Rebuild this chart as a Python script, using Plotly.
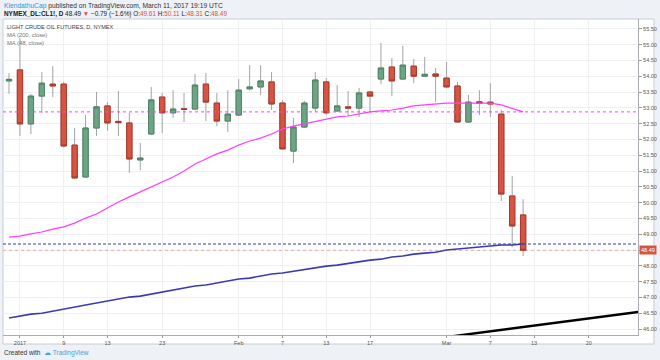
import plotly.graph_objects as go

# ---------------- data ----------------
dates = ["2016-12-30",
         "2017-01-03", "2017-01-04", "2017-01-05", "2017-01-06", "2017-01-09", "2017-01-10",
         "2017-01-11", "2017-01-12", "2017-01-13", "2017-01-17", "2017-01-18", "2017-01-19",
         "2017-01-20", "2017-01-23", "2017-01-24", "2017-01-25", "2017-01-26", "2017-01-27",
         "2017-01-30", "2017-01-31", "2017-02-01", "2017-02-02", "2017-02-03", "2017-02-06",
         "2017-02-07", "2017-02-08", "2017-02-09", "2017-02-10", "2017-02-13", "2017-02-14",
         "2017-02-15", "2017-02-16", "2017-02-17", "2017-02-21", "2017-02-22", "2017-02-23",
         "2017-02-24", "2017-02-27", "2017-02-28", "2017-03-01", "2017-03-02", "2017-03-03",
         "2017-03-06", "2017-03-07", "2017-03-08", "2017-03-09", "2017-03-10"]
future_dates = ["2017-03-13", "2017-03-14", "2017-03-15", "2017-03-16", "2017-03-17",
                "2017-03-20", "2017-03-21", "2017-03-22", "2017-03-23", "2017-03-24",
                "2017-03-27", "2017-03-28", "2017-03-29", "2017-03-30", "2017-03-31"]

opens = [53.85, 54.20, 52.49, 53.37, 53.75, 53.75, 51.82, 50.81, 52.36, 53.06, 52.57, 52.52,
         51.35, 52.17, 53.34, 52.84, 52.97, 52.96, 53.75, 53.15, 52.58, 52.77, 53.60, 53.66,
         53.82, 53.15, 51.63, 52.39, 52.99, 53.82, 52.90, 53.03, 52.99, 53.50, 53.91, 54.29,
         53.91, 54.32, 54.00, 54.07, 53.94, 53.69, 52.55, 53.19, 53.18, 52.80, 50.21, 49.61]
highs = [54.10, 55.20, 53.44, 54.13, 54.32, 53.82, 52.36, 52.77, 53.50, 53.18, 53.53, 52.84,
         51.89, 53.66, 53.47, 53.56, 53.47, 54.07, 54.10, 53.47, 53.56, 53.91, 54.35, 54.35,
         54.13, 53.25, 52.68, 53.22, 54.13, 53.94, 53.72, 53.53, 53.63, 53.53, 55.05, 54.58,
         54.96, 54.54, 54.61, 54.26, 54.45, 53.82, 53.41, 53.56, 53.78, 52.93, 50.84, 50.11]
lows = [53.44, 52.11, 52.17, 52.84, 53.34, 51.75, 50.75, 50.78, 52.11, 52.27, 52.11, 50.94,
        51.03, 52.14, 52.20, 52.68, 52.55, 52.93, 52.58, 52.42, 52.23, 52.74, 53.55, 53.40,
        52.93, 51.68, 51.25, 52.36, 52.87, 52.77, 52.88, 52.74, 52.71, 52.87, 53.75, 53.37,
        53.88, 53.78, 53.97, 53.18, 53.64, 52.53, 52.53, 52.77, 52.71, 50.05, 48.59, 48.31]
closes = [53.90, 52.49, 53.37, 53.78, 53.69, 51.79, 50.78, 52.36, 53.03, 52.52, 52.53, 51.38,
          51.41, 53.25, 52.84, 52.96, 52.95, 53.72, 53.18, 52.58, 52.80, 53.56, 53.66, 53.85,
          53.12, 51.70, 52.39, 53.15, 53.88, 52.84, 53.06, 52.99, 53.47, 53.37, 54.26, 53.85,
          54.35, 54.00, 54.06, 54.00, 53.66, 52.55, 53.18, 53.15, 53.12, 50.27, 49.26, 48.49]

ma48 = [48.91, 48.94, 49.01, 49.07, 49.16, 49.23, 49.35, 49.51, 49.64, 49.83, 50.02, 50.18,
        50.34, 50.49, 50.65, 50.81, 51.00, 51.22, 51.38, 51.54, 51.66, 51.82, 51.95, 52.04,
        52.17, 52.33, 52.42, 52.49, 52.58, 52.65, 52.71, 52.74, 52.80, 52.87, 52.90, 52.93,
        52.99, 53.06, 53.09, 53.12, 53.15, 53.15, 53.15, 53.15, 53.15, 53.09, 52.99, 52.87]
ma200 = [46.35, 46.41, 46.47, 46.50, 46.57, 46.63, 46.69, 46.76, 46.82, 46.88, 46.95, 47.01,
         47.04, 47.10, 47.17, 47.23, 47.29, 47.36, 47.39, 47.45, 47.51, 47.58, 47.61, 47.67,
         47.74, 47.77, 47.83, 47.89, 47.93, 47.99, 48.02, 48.08, 48.12, 48.18, 48.21, 48.28,
         48.31, 48.37, 48.40, 48.43, 48.50, 48.53, 48.56, 48.59, 48.62, 48.66, 48.66, 48.69]

trend_dates = ["2017-02-28", "2017-03-31"]
trend_values = [45.70, 46.74]

tick_dates = ["2017-01-03", "2017-01-09", "2017-01-13", "2017-01-23", "2017-02-01",
              "2017-02-07", "2017-02-13", "2017-02-17", "2017-03-01", "2017-03-07",
              "2017-03-13", "2017-03-20"]
tick_labels = ["2017", "9", "13", "23", "Feb", "7", "13", "17", "Mar", "7", "13", "20"]
price_ticks = [46.0, 46.5, 47.0, 47.5, 48.0, 48.5, 49.0, 49.5, 50.0, 50.5, 51.0,
               51.5, 52.0, 52.5, 53.0, 53.5, 54.0, 54.5, 55.0, 55.5]
# the 48.50 label is hidden behind the last-price marker in the reference
price_labels = ["46.00", "46.50", "47.00", "47.50", "48.00", "", "49.00", "49.50", "50.00",
                "50.50", "51.00", "51.50", "52.00", "52.50", "53.00", "53.50", "54.00",
                "54.50", "55.00", "55.50"]

# ---------------- style ----------------
W, H = 660, 360
L, R, T, B = 3, 20, 19, 25
PW, PH = W - L - R, H - T - B
FONT = "Liberation Sans, Arial, sans-serif"
UP, DOWN = "#6ba583", "#d75442"
UP_BORDER, DOWN_BORDER = "#4f8466", "#a8392a"
WICK = "#a3a3a3"
MAG, BLUE = "#ff3cff", "#3b3bb0"


def px(x):
    return (x - L) / PW


def py(y):
    return (H - B - y) / PH


body_hi = [max(o, c) for o, c in zip(opens, closes)]
body_lo = [min(o, c) for o, c in zip(opens, closes)]

fig = go.Figure()
fig.add_trace(go.Candlestick(
    x=dates, open=opens, high=highs, low=lows, close=closes,
    increasing=dict(line=dict(color=WICK, width=1), fillcolor=UP),
    decreasing=dict(line=dict(color=WICK, width=1), fillcolor=DOWN),
    whiskerwidth=0, showlegend=False, hoverinfo="skip"))
fig.add_trace(go.Candlestick(
    x=dates, open=opens, high=body_hi, low=body_lo, close=closes,
    increasing=dict(line=dict(color=UP_BORDER, width=1), fillcolor=UP),
    decreasing=dict(line=dict(color=DOWN_BORDER, width=1), fillcolor=DOWN),
    whiskerwidth=0, showlegend=False))
fig.add_trace(go.Scatter(x=dates, y=ma48, mode="lines",
                         line=dict(color=MAG, width=1.2), showlegend=False))
fig.add_trace(go.Scatter(x=dates, y=ma200, mode="lines",
                         line=dict(color=BLUE, width=1.6), showlegend=False))
fig.add_trace(go.Scatter(x=trend_dates, y=trend_values, mode="lines",
                         line=dict(color="#000000", width=2.4), showlegend=False))

shapes = [
    # white chart frame
    dict(type="rect", xref="paper", yref="paper", x0=px(3), x1=px(656), y0=py(344), y1=py(19),
         fillcolor="#ffffff", line=dict(color="#c9ccd2", width=1), layer="below"),
    dict(type="line", xref="paper", yref="y", x0=0, x1=1, y0=ma48[-1], y1=ma48[-1],
         line=dict(color=MAG, width=1, dash="dot")),
    dict(type="line", xref="paper", yref="y", x0=0, x1=1, y0=ma200[-1], y1=ma200[-1],
         line=dict(color=BLUE, width=1.2, dash="3px,2px")),
    dict(type="line", xref="paper", yref="y", x0=0, x1=1, y0=closes[-1], y1=closes[-1],
         line=dict(color="rgba(215,84,66,0.45)", width=1, dash="dot")),
]

annotations = [
    dict(xref="paper", yref="paper", x=px(2), y=py(6), xanchor="left", yanchor="middle",
         showarrow=False, font=dict(family=FONT, size=6.7, color="#333333"),
         text="<span style='color:#2a9ad8'>KlendathuCap</span> published on TradingView.com, "
              "March 11, 2017 19:19 UTC"),
    dict(xref="paper", yref="paper", x=px(2), y=py(14), xanchor="left", yanchor="middle",
         showarrow=False, font=dict(family=FONT, size=6.4, color="#222222"),
         text="<b>NYMEX_DL:CL1!, D</b> 48.49 <span style='color:#d75442'>▼</span> −0.79 (−1.6%) "
              "O:<span style='color:#d75442'>49.61</span> H:<span style='color:#d75442'>50.11</span> "
              "L:<span style='color:#d75442'>48.31</span> C:<span style='color:#d75442'>48.49</span>"),
    dict(xref="paper", yref="paper", x=px(5), y=py(27), xanchor="left", yanchor="middle",
         showarrow=False, font=dict(family=FONT, size=5.6, color="#444444"),
         text="LIGHT CRUDE OIL FUTURES, D, NYMEX"),
    dict(xref="paper", yref="paper", x=px(5), y=py(35), xanchor="left", yanchor="middle",
         showarrow=False, font=dict(family=FONT, size=5.8, color="#777777"),
         text="MA (200, close)"),
    dict(xref="paper", yref="paper", x=px(5), y=py(43), xanchor="left", yanchor="middle",
         showarrow=False, font=dict(family=FONT, size=5.8, color="#777777"),
         text="MA (48, close)"),
    dict(xref="paper", yref="y", x=px(641), y=closes[-1], xanchor="left", yanchor="middle",
         showarrow=False, font=dict(family=FONT, size=5.5, color="#ffffff"),
         text=f"{closes[-1]:.2f}", bgcolor=DOWN, borderpad=1),
    dict(xref="paper", yref="paper", x=px(2), y=py(353), xanchor="left", yanchor="middle",
         showarrow=False, font=dict(family=FONT, size=6.5, color="#333333"),
         text="Created with  <span style='color:#3aa6e0'>☁ TradingView</span>"),
]

fig.update_layout(
    width=W, height=H, autosize=False,
    margin=dict(l=L, r=R, t=T, b=B, pad=0),
    paper_bgcolor="#eef1f5", plot_bgcolor="#ffffff",
    shapes=shapes, annotations=annotations,
    font=dict(family=FONT, size=6, color="#555555"),
    xaxis=dict(type="category", categoryorder="array", categoryarray=dates + future_dates,
               range=[-0.55, 57.5], rangeslider=dict(visible=False),
               tickmode="array", tickvals=tick_dates, ticktext=tick_labels,
               ticks="outside", ticklen=2, tickcolor="#999999",
               tickfont=dict(family=FONT, size=5.5, color="#555555"),
               showgrid=True, gridcolor="#eef0f3", gridwidth=1,
               showline=True, linecolor="#a9acb2", linewidth=1, zeroline=False,
               fixedrange=True),
    yaxis=dict(side="right", range=[45.81, 55.81], tickmode="array", tickvals=price_ticks,
               ticktext=price_labels, ticks="outside", ticklen=3, tickcolor="#999999",
               tickfont=dict(family=FONT, size=5.5, color="#555555"),
               showgrid=True, gridcolor="#eef0f3", gridwidth=1,
               showline=True, linecolor="#a9acb2", linewidth=1, zeroline=False,
               fixedrange=True),
    hovermode=False,
)

fig.write_html("out.html", config={"displayModeBar": False},
               post_script="document.body.style.margin='0';document.body.style.overflow='hidden';")
